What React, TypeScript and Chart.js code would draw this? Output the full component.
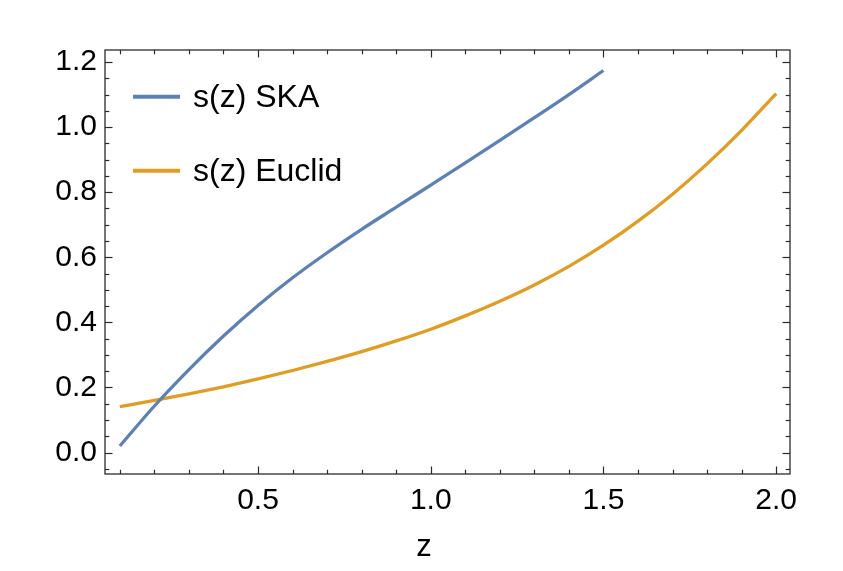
import React, { useEffect, useRef } from "react";
import { Chart, registerables } from "chart.js";

Chart.register(...registerables);

// ---- data ----
const zSKA = [0.1, 0.2, 0.3, 0.4, 0.5, 0.6, 0.7, 0.8, 0.9, 1.0, 1.1, 1.2, 1.3, 1.4, 1.5];
const sSKA = [0.020, 0.143, 0.255, 0.358, 0.452, 0.537, 0.614, 0.686, 0.754, 0.822, 0.890, 0.959, 1.029, 1.100, 1.174];

const zEuclid = [0.1, 0.2, 0.3, 0.4, 0.5, 0.6, 0.7, 0.8, 0.9, 1.0, 1.1, 1.2, 1.3, 1.4, 1.5, 1.6, 1.7, 1.8, 1.9, 2.0];
const sEuclid = [0.141, 0.160, 0.180, 0.202, 0.226, 0.252, 0.280, 0.310, 0.343, 0.379, 0.420, 0.465, 0.515, 0.572, 0.637, 0.711, 0.794, 0.887, 0.990, 1.103];

const seriesLabels = ["s(z) SKA", "s(z) Euclid"];
const seriesColors = ["#5E81B5", "#E19C24"];
const xTitle = "z";

const xMajorTicks = [0.5, 1.0, 1.5, 2.0];
const xMinorTicks = [0.1, 0.2, 0.3, 0.4, 0.6, 0.7, 0.8, 0.9, 1.1, 1.2, 1.3, 1.4, 1.6, 1.7, 1.8, 1.9];
const yMajorTicks = [0.0, 0.2, 0.4, 0.6, 0.8, 1.0, 1.2];
const yMinorTicks = [-0.05, 0.05, 0.1, 0.15, 0.25, 0.3, 0.35, 0.45, 0.5, 0.55, 0.65, 0.7, 0.75, 0.85, 0.9, 0.95, 1.05, 1.1, 1.15];

const FONT = "'Liberation Sans', Arial, Helvetica, sans-serif";
const FRAME = "#2b2b2b";

const framePlugin = {
  id: "mmaFrame",
  afterDraw(chart: any) {
    const { ctx, chartArea: a, scales } = chart;
    const xs = scales.x;
    const ys = scales.y;
    ctx.save();
    ctx.strokeStyle = FRAME;
    ctx.lineWidth = 1.3;
    ctx.strokeRect(a.left, a.top, a.right - a.left, a.bottom - a.top);
    ctx.lineWidth = 1.2;
    const line = (x1: number, y1: number, x2: number, y2: number) => {
      ctx.beginPath();
      ctx.moveTo(x1, y1);
      ctx.lineTo(x2, y2);
      ctx.stroke();
    };
    const MAJ = 7.5;
    const MIN = 4.3;
    xMajorTicks.forEach((v) => {
      const px = Math.round(xs.getPixelForValue(v)) + 0.5;
      line(px, a.bottom, px, a.bottom - MAJ);
      line(px, a.top, px, a.top + MAJ);
    });
    xMinorTicks.forEach((v) => {
      const px = Math.round(xs.getPixelForValue(v)) + 0.5;
      line(px, a.bottom, px, a.bottom - MIN);
      line(px, a.top, px, a.top + MIN);
    });
    yMajorTicks.forEach((v) => {
      const py = Math.round(ys.getPixelForValue(v)) + 0.5;
      line(a.left, py, a.left + MAJ, py);
      line(a.right, py, a.right - MAJ, py);
    });
    yMinorTicks.forEach((v) => {
      const py = Math.round(ys.getPixelForValue(v)) + 0.5;
      line(a.left, py, a.left + MIN, py);
      line(a.right, py, a.right - MIN, py);
    });

    // legend
    const legendY = [96.7, 170.7];
    chart.data.datasets.forEach((ds: any, i: number) => {
      ctx.strokeStyle = ds.borderColor;
      ctx.lineWidth = 4;
      ctx.lineCap = "butt";
      line(133, legendY[i], 180, legendY[i]);
      ctx.fillStyle = "#000";
      ctx.font = `32px ${FONT}`;
      ctx.textBaseline = "alphabetic";
      ctx.textAlign = "left";
      ctx.fillText(ds.label, 193, legendY[i] + 10.5);
    });

    // x axis title
    ctx.fillStyle = "#000";
    ctx.font = `31px ${FONT}`;
    ctx.textAlign = "center";
    ctx.textBaseline = "alphabetic";
    ctx.fillText(xTitle, 424, 556);
    ctx.restore();
  },
};

export default function App() {
  const ref = useRef<HTMLCanvasElement | null>(null);
  useEffect(() => {
    if (!ref.current) return;
    const chart = new Chart(ref.current, {
      type: "line",
      data: {
        datasets: [
          {
            label: seriesLabels[0],
            data: zSKA.map((z, i) => ({ x: z, y: sSKA[i] })),
            borderColor: seriesColors[0],
            backgroundColor: seriesColors[0],
            borderWidth: 3.3,
            pointRadius: 0,
            cubicInterpolationMode: "monotone",
            fill: false,
          },
          {
            label: seriesLabels[1],
            data: zEuclid.map((z, i) => ({ x: z, y: sEuclid[i] })),
            borderColor: seriesColors[1],
            backgroundColor: seriesColors[1],
            borderWidth: 3.3,
            pointRadius: 0,
            cubicInterpolationMode: "monotone",
            fill: false,
          },
        ],
      },
      options: {
        animation: false,
        responsive: false,
        maintainAspectRatio: false,
        layout: { padding: { left: 0, top: 50, right: 53, bottom: 0 } },
        plugins: {
          legend: { display: false },
          tooltip: { enabled: false },
        },
        scales: {
          x: {
            type: "linear",
            min: 0.057,
            max: 2.04,
            grid: { display: false, drawTicks: false },
            border: { display: false },
            afterBuildTicks: (s: any) => {
              s.ticks = xMajorTicks.map((v) => ({ value: v }));
            },
            afterFit: (s: any) => {
              s.height = 97;
            },
            ticks: {
              color: "#000",
              padding: 9,
              maxRotation: 0,
              font: { size: 30, family: FONT },
              callback: (v: any) => Number(v).toFixed(1),
            },
          },
          y: {
            type: "linear",
            min: -0.066,
            max: 1.237,
            grid: { display: false, drawTicks: false },
            border: { display: false },
            afterBuildTicks: (s: any) => {
              s.ticks = yMajorTicks.map((v) => ({ value: v }));
            },
            afterFit: (s: any) => {
              s.width = 105;
            },
            ticks: {
              color: "#000",
              padding: 8,
              font: { size: 30, family: FONT },
              callback: (v: any) => Number(v).toFixed(1),
            },
          },
        },
      },
      plugins: [framePlugin],
    });
    return () => chart.destroy();
  }, []);
  return (
    <div style={{ position: "absolute", left: 0, top: 0, width: 843, height: 571, background: "#fff" }}>
      <canvas ref={ref} width={843} height={571} style={{ width: 843, height: 571, display: "block" }} />
    </div>
  );
}
